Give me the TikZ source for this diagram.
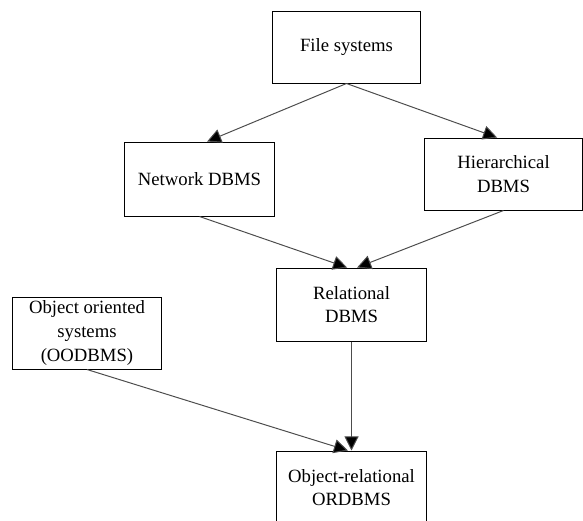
\documentclass[tikz,border=0pt]{standalone}
\usepackage{fontspec}
\setmainfont{Liberation Serif}
\usetikzlibrary{arrows.meta}

\begin{document}
\begin{tikzpicture}[x=0.025cm, y=-0.025cm,
    box/.style={draw, line width=0.7pt, align=center, inner sep=0pt,
        font=\fontsize{13.3}{16.8}\selectfont},
    link/.style={draw=black!70, line width=0.7pt,
        -{Triangle[length=10pt, width=10pt, fill=black]}}]
    \useasboundingbox (0,0) rectangle (583,520);

    % Top level
    \node[box, minimum width=3.675cm, minimum height=1.8cm] (fs) at (346.5,47) {File systems};

    % Second level
    \node[box, minimum width=3.725cm, minimum height=1.85cm] (net) at (199.5,179) {Network DBMS};
    \node[box, minimum width=3.925cm, minimum height=1.8cm] (hier) at (503.5,174) {Hierarchical\\DBMS};

    % Relational and object oriented
    \node[box, minimum width=3.725cm, minimum height=1.825cm] (rel) at (351.5,304.5) {Relational\\DBMS};
    \node[box, minimum width=3.7cm, minimum height=1.8cm] (oo) at (87,333) {Object oriented\\systems\\(OODBMS)};

    % Bottom
    \node[box, minimum width=3.725cm, minimum height=1.825cm] (ord) at (351.5,487.5) {Object-relational\\ORDBMS};

    % Arrows
    \draw[link] (fs.south) -- ([xshift=0.19cm]net.north);
    \draw[link] (fs.south) -- ([xshift=-0.16cm]hier.north);
    \draw[link] (net.south) -- ([xshift=-0.11cm]rel.north);
    \draw[link] (hier.south) -- ([xshift=0.14cm]rel.north);
    \draw[link] (rel.south) -- (ord.north);
    \draw[link] (oo.south) -- ([xshift=-0.09cm]ord.north);
\end{tikzpicture}
\end{document}
